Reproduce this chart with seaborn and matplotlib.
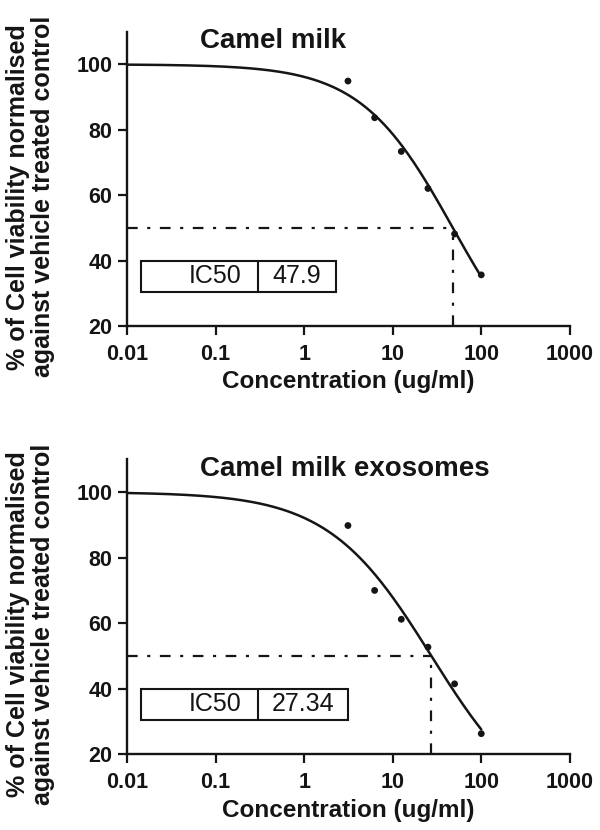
import numpy as np
import pandas as pd
import matplotlib
matplotlib.use("Agg")
import matplotlib.pyplot as plt
from matplotlib.patches import Rectangle
import seaborn as sns

# Doses (ug/ml) and mean viability
conc = [3.125, 6.25, 12.5, 25, 50, 100]
milk_viability = [94.9, 83.7, 73.4, 62.1, 48.2, 35.7]
exo_viability = [89.8, 70.0, 61.2, 52.7, 41.5, 26.3]

# Reported IC50 values
milk_ic50 = 47.9
exo_ic50 = 27.34
milk_ic50_label = "47.9"
exo_ic50_label = "27.34"

titles = ["Camel milk", "Camel milk exosomes"]
x_ticks = [0.01, 0.1, 1, 10, 100, 1000]
x_tick_labels = ["0.01", "0.1", "1", "10", "100", "1000"]
y_ticks = [20, 40, 60, 80, 100]


def dose_response(x, ic50, hill):
    # normalised response, top 100 / bottom 0
    return 100.0 / (1.0 + (np.asarray(x) / ic50) ** hill)


def fit_hill(x, y, ic50):
    # least squares on the hill slope with the reported IC50
    slopes = np.linspace(0.3, 2.5, 2201)
    sse = [np.sum((dose_response(x, ic50, h) - np.asarray(y)) ** 2) for h in slopes]
    return slopes[int(np.argmin(sse))]


sns.set_style("ticks")
plt.rcParams["font.family"] = ["Liberation Sans", "DejaVu Sans"]
plt.rcParams["font.weight"] = "bold"

fig = plt.figure(figsize=(6, 8.3), dpi=100)
ax_top = fig.add_axes([0.2117, 0.6069, 0.738, 0.355])
ax_bot = fig.add_axes([0.2117, 0.0912, 0.738, 0.3554])

panels = [
    (ax_top, titles[0], milk_viability, milk_ic50, milk_ic50_label, 0.472),
    (ax_bot, titles[1], exo_viability, exo_ic50, exo_ic50_label, 0.4995),
]

dash_style = (0, (4.8, 4.3, 1.4, 4.3))
ink = "#151515"

for ax, title, viab, ic50, ic50_label, box_right in panels:
    hill = fit_hill(conc, viab, ic50)
    x_fit = np.logspace(-2, 2, 300)
    curve = pd.DataFrame({"conc": x_fit, "viability": dose_response(x_fit, ic50, hill)})
    points = pd.DataFrame({"conc": conc, "viability": viab})

    sns.lineplot(data=curve, x="conc", y="viability", ax=ax, color=ink,
                 linewidth=1.8, zorder=3)
    sns.scatterplot(data=points, x="conc", y="viability", ax=ax, color=ink,
                    s=24, edgecolor="none", zorder=4)

    # IC50 guide lines
    ax.plot([0.01, ic50], [50, 50], color=ink, linewidth=1.6, linestyle=dash_style)
    ax.plot([ic50, ic50], [20, 50], color=ink, linewidth=1.6, linestyle=dash_style)

    ax.set_xscale("log")
    ax.set_xlim(0.01, 1000)
    ax.set_ylim(20, 110)
    ax.set_xticks(x_ticks)
    ax.set_xticklabels(x_tick_labels)
    ax.minorticks_off()
    ax.set_yticks(y_ticks)
    ax.tick_params(axis="both", labelsize=15.5, width=1.6, length=6.5, pad=4, colors=ink)
    ax.tick_params(axis="x", pad=6)
    for lab in ax.get_xticklabels() + ax.get_yticklabels():
        lab.set_fontweight("bold")

    sns.despine(ax=ax)
    for side in ["left", "bottom"]:
        ax.spines[side].set_linewidth(1.7)
        ax.spines[side].set_color(ink)

    ax.set_xlabel("Concentration (ug/ml)", fontsize=17.5, fontweight="bold", color=ink)
    ax.xaxis.set_label_coords(0.5, -0.15)
    ax.set_ylabel("% of Cell viability normalised\nagainst vehicle treated control",
                  fontsize=18, fontweight="bold", linespacing=1.05, color=ink)
    ax.yaxis.set_label_coords(-0.163, 0.44)

    ax.text(0.165, 0.944, title, transform=ax.transAxes, ha="left", va="baseline",
            fontsize=20, fontweight="bold", color=ink)

    # IC50 table box
    y0, y1 = 0.1167, 0.2222
    ax.add_patch(Rectangle((0.031, y0), box_right - 0.031, y1 - y0, transform=ax.transAxes,
                           fill=False, edgecolor=ink, linewidth=1.5, zorder=5))
    ax.plot([0.296, 0.296], [y0, y1], transform=ax.transAxes, color=ink,
            linewidth=1.5, zorder=5)
    ax.text(0.259, (y0 + y1) / 2, "IC50", transform=ax.transAxes, ha="right",
            va="center", fontsize=18, fontweight="normal", color=ink)
    ax.text((0.296 + box_right) / 2, (y0 + y1) / 2, ic50_label, transform=ax.transAxes,
            ha="center", va="center", fontsize=18, fontweight="normal", color=ink)

fig.savefig("out.png", dpi=100)
